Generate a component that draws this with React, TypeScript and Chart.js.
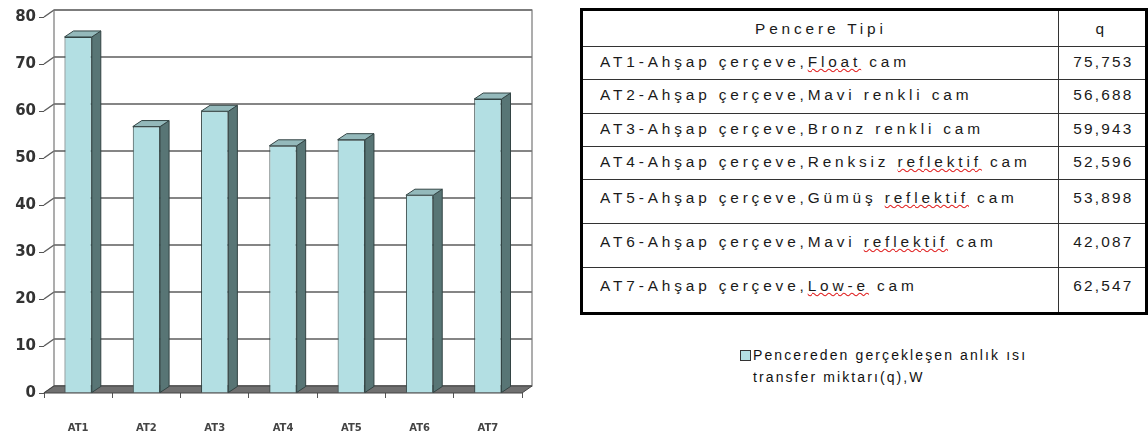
import React, { useEffect, useRef } from "react";
import { Chart, registerables } from "chart.js";

Chart.register(...registerables);

// Window types AT1..AT7 and their instantaneous heat transfer q (W)
const categories = ["AT1", "AT2", "AT3", "AT4", "AT5", "AT6", "AT7"];
const qValues = [75.753, 56.688, 59.943, 52.596, 53.898, 42.087, 62.547];
const glassTypes = [
  "Float cam",
  "Mavi renkli cam",
  "Bronz renkli cam",
  "Renksiz reflektif cam",
  "Gümüş reflektif cam",
  "Mavi reflektif cam",
  "Low-e cam",
];
const yTicks = [0, 10, 20, 30, 40, 50, 60, 70, 80];
const flaggedWords = ["Float", "reflektif", "Low-e"];
const rowHeights = [33, 34, 33, 33, 44, 44, 46];

const tableHeader = ["Pencere Tipi", "q"];
const legendLines = ["Pencereden gerçekleşen anlık ısı", "transfer miktarı(q),W"];

const FACE = "#b3dfe3";
const SIDE = "#587575";
const TOP = "#94b9bb";
const EDGE = "#334444";

// depth of the back wall and of each bar
const WALL_DX = 10;
const WALL_DY = 7;
const BAR_DX = 9;
const BAR_DY = 6;

const excel3d = {
  id: "excel3d",
  beforeDatasetsDraw(chart: any) {
    const { ctx, chartArea, scales } = chart;
    const y = scales.y;
    const left = chartArea.left;
    const right = chartArea.right;
    const top = y.getPixelForValue(80);
    const bottom = y.getPixelForValue(0);
    ctx.save();
    ctx.strokeStyle = "#5e5e5e";
    ctx.lineWidth = 1.5;
    for (const v of yTicks) {
      const py = y.getPixelForValue(v);
      ctx.beginPath();
      ctx.moveTo(left + WALL_DX, py - WALL_DY);
      ctx.lineTo(right + WALL_DX, py - WALL_DY);
      ctx.moveTo(left, py);
      ctx.lineTo(left + WALL_DX, py - WALL_DY);
      ctx.stroke();
    }
    // back wall frame
    ctx.strokeStyle = "#777";
    ctx.lineWidth = 1.2;
    ctx.strokeRect(left + WALL_DX, top - WALL_DY, right - left, bottom - top);
    // floor
    ctx.beginPath();
    ctx.moveTo(left, bottom);
    ctx.lineTo(right, bottom);
    ctx.lineTo(right + WALL_DX, bottom - WALL_DY);
    ctx.lineTo(left + WALL_DX, bottom - WALL_DY);
    ctx.closePath();
    ctx.fillStyle = "#707070";
    ctx.fill();
    ctx.strokeStyle = "#444";
    ctx.lineWidth = 1;
    ctx.stroke();
    ctx.restore();
  },
  afterDatasetsDraw(chart: any) {
    const { ctx } = chart;
    const meta = chart.getDatasetMeta(0);
    ctx.save();
    ctx.strokeStyle = EDGE;
    ctx.lineWidth = 1;
    for (const el of meta.data as any[]) {
      const l = el.x - el.width / 2;
      const r = el.x + el.width / 2;
      // side face
      ctx.beginPath();
      ctx.moveTo(r, el.y);
      ctx.lineTo(r + BAR_DX, el.y - BAR_DY);
      ctx.lineTo(r + BAR_DX, el.base - BAR_DY);
      ctx.lineTo(r, el.base);
      ctx.closePath();
      ctx.fillStyle = SIDE;
      ctx.fill();
      ctx.stroke();
      // top face
      ctx.beginPath();
      ctx.moveTo(l, el.y);
      ctx.lineTo(l + BAR_DX, el.y - BAR_DY);
      ctx.lineTo(r + BAR_DX, el.y - BAR_DY);
      ctx.lineTo(r, el.y);
      ctx.closePath();
      ctx.fillStyle = TOP;
      ctx.fill();
      ctx.stroke();
    }
    ctx.restore();
  },
};

function formatQ(v: number) {
  return v.toFixed(3).replace(".", ",");
}

function markWords(text: string) {
  const parts: React.ReactNode[] = [];
  let rest = text;
  let key = 0;
  while (rest.length) {
    let hit = -1;
    let word = "";
    for (const w of flaggedWords) {
      const i = rest.indexOf(w);
      if (i >= 0 && (hit < 0 || i < hit)) {
        hit = i;
        word = w;
      }
    }
    if (hit < 0) {
      parts.push(rest);
      break;
    }
    if (hit > 0) parts.push(rest.slice(0, hit));
    parts.push(
      <span
        key={key++}
        style={{
          textDecorationLine: "underline",
          textDecorationStyle: "wavy",
          textDecorationColor: "#e02020",
          textDecorationThickness: "1px",
        }}
      >
        {word}
      </span>
    );
    rest = rest.slice(hit + word.length);
  }
  return parts;
}

function BarChart() {
  const ref = useRef<HTMLCanvasElement>(null);
  useEffect(() => {
    if (!ref.current) return;
    const chart = new Chart(ref.current, {
      type: "bar",
      data: {
        labels: categories,
        datasets: [
          {
            data: qValues,
            backgroundColor: FACE,
            borderColor: EDGE,
            borderWidth: 1,
            categoryPercentage: 1,
            barPercentage: 0.4,
          },
        ],
      },
      options: {
        responsive: false,
        animation: false,
        layout: { padding: { top: 17, right: 23, left: 0, bottom: 0 } },
        plugins: { legend: { display: false }, tooltip: { enabled: false } },
        scales: {
          x: {
            grid: {
              display: true,
              drawOnChartArea: false,
              drawTicks: true,
              tickLength: 5,
              color: "#555",
            },
            border: { display: false },
            ticks: {
              font: { family: "DejaVu Sans", weight: "bold", size: 10 },
              color: "#444",
              padding: 24,
            },
            afterFit: (s: any) => {
              s.height = 46;
            },
          },
          y: {
            min: 0,
            max: 80,
            ticks: {
              stepSize: 10,
              font: { family: "DejaVu Sans", weight: "bold", size: 15 },
              color: "#333",
              padding: 3,
            },
            grid: {
              drawOnChartArea: false,
              drawTicks: true,
              tickLength: 5,
              color: "#555",
            },
            border: { display: false },
            afterFit: (s: any) => {
              s.width = 44;
            },
          },
        },
      },
      plugins: [excel3d],
    });
    return () => chart.destroy();
  }, []);
  return (
    <canvas
      ref={ref}
      width={545}
      height={439}
      style={{ position: "absolute", left: 0, top: 0, width: 545, height: 439 }}
    />
  );
}

const cellText: React.CSSProperties = {
  fontFamily: "'Liberation Sans', Arial, sans-serif",
  fontSize: 14,
  letterSpacing: "3.5px",
  color: "#1a1a1a",
  whiteSpace: "nowrap",
};

// widened text run inside a table cell
function Wide({ children, origin }: { children: React.ReactNode; origin: string }) {
  return (
    <span
      style={{
        display: "inline-block",
        transform: "scaleX(1.1)",
        transformOrigin: origin,
      }}
    >
      {children}
    </span>
  );
}

export default function App() {
  return (
    <div
      style={{
        position: "absolute",
        left: 0,
        top: 0,
        width: 1148,
        height: 439,
        overflow: "hidden",
        background: "#fff",
      }}
    >
      <BarChart />
      <table
        style={{
          position: "absolute",
          left: 580,
          top: 8,
          width: 565,
          borderCollapse: "collapse",
          border: "3px solid #000",
          tableLayout: "fixed",
        }}
      >
        <colgroup>
          <col style={{ width: 477 }} />
          <col style={{ width: 88 }} />
        </colgroup>
        <tbody>
          <tr style={{ height: 37 }}>
            {tableHeader.map((h) => (
              <td
                key={h}
                style={{ ...cellText, border: "1px solid #333", textAlign: "center", padding: 0 }}
              >
                <Wide origin="center">{h}</Wide>
              </td>
            ))}
          </tr>
          {categories.map((c, i) => (
            <tr key={c} style={{ height: rowHeights[i] }}>
              <td
                style={{
                  ...cellText,
                  border: "1px solid #333",
                  padding: i >= 4 ? "0 0 8px 17px" : "0 0 3px 17px",
                }}
              >
                <Wide origin="left">{markWords(`${c}-Ahşap çerçeve,${glassTypes[i]}`)}</Wide>
              </td>
              <td
                style={{
                  ...cellText,
                  letterSpacing: "2px",
                  border: "1px solid #333",
                  textAlign: "center",
                  padding: i >= 4 ? "0 0 8px 3px" : "0 0 3px 3px",
                }}
              >
                <Wide origin="center">{formatQ(qValues[i])}</Wide>
              </td>
            </tr>
          ))}
        </tbody>
      </table>
      <div
        style={{
          position: "absolute",
          left: 740,
          top: 350,
          width: 9,
          height: 9,
          background: FACE,
          border: "1px solid #333",
        }}
      />
      <div
        style={{
          position: "absolute",
          left: 753,
          top: 344,
          fontFamily: "'Liberation Sans', Arial, sans-serif",
          fontSize: 14,
          lineHeight: "22px",
          letterSpacing: "2.1px",
          color: "#111",
          whiteSpace: "nowrap",
        }}
      >
        {legendLines.map((t) => (
          <div key={t}>{t}</div>
        ))}
      </div>
    </div>
  );
}
